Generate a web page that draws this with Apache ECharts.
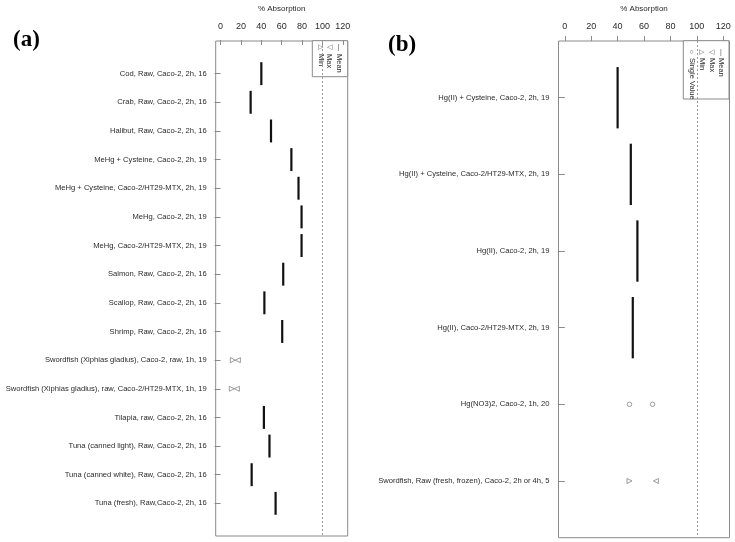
<!DOCTYPE html>
<html><head><meta charset="utf-8">
<script src="https://cdn.jsdelivr.net/npm/echarts@6/dist/echarts.min.js"></script>
<style>html,body{margin:0;padding:0;background:#fff}#c{width:735px;height:542px}</style>
</head><body><div id="c"></div>
<script>
// ---------- DATA ----------
const catsA = [
 'Cod, Raw, Caco-2, 2h, 16',
 'Crab, Raw, Caco-2, 2h, 16',
 'Halibut, Raw, Caco-2, 2h, 16',
 'MeHg + Cysteine, Caco-2, 2h, 19',
 'MeHg + Cysteine, Caco-2/HT29-MTX, 2h, 19',
 'MeHg, Caco-2, 2h, 19',
 'MeHg, Caco-2/HT29-MTX, 2h, 19',
 'Salmon, Raw, Caco-2, 2h, 16',
 'Scallop, Raw, Caco-2, 2h, 16',
 'Shrimp, Raw, Caco-2, 2h, 16',
 'Swordfish (Xiphias gladius), Caco-2, raw, 1h, 19',
 'Swordfish (Xiphias gladius), raw, Caco-2/HT29-MTX, 1h, 19',
 'Tilapia, raw, Caco-2, 2h, 16',
 'Tuna (canned light), Raw, Caco-2, 2h, 16',
 'Tuna (canned white), Raw, Caco-2, 2h, 16',
 'Tuna (fresh), Raw,Caco-2, 2h, 16'
];
const meanA = [40, 29.5, 49.5, 69.5, 76.5, 79.5, 79.5, 61.5, 43, 60.5, null, null, 42.5, 48, 30.5, 54];
const minA  = [null, null, null, null, null, null, null, null, null, null, 12, 11, null, null, null, null];
const maxA  = [null, null, null, null, null, null, null, null, null, null, 17, 16, null, null, null, null];

const catsB = [
 'Hg(II) + Cysteine, Caco-2, 2h, 19',
 'Hg(II) + Cysteine, Caco-2/HT29-MTX, 2h, 19',
 'Hg(II), Caco-2, 2h, 19',
 'Hg(II), Caco-2/HT29-MTX, 2h, 19',
 'Hg(NO3)2, Caco-2, 1h, 20',
 'Swordfish, Raw (fresh, frozen), Caco-2, 2h or 4h, 5'
];
const meanB = [40, 50, 55, 51.5, null, null];
const minB  = [null, null, null, null, null, 49];
const maxB  = [null, null, null, null, null, 69];
const singleRowB = [5, 5];
const singleValB = [49, 66.5];

const xTicks = [0, 20, 40, 60, 80, 100, 120];
const refLine = 100;

// ---------- HELPERS ----------
const rowsA = catsA.map((_, i) => i + 1);
const rowsB = catsB.map((_, i) => i + 1);
const pairs = (vals) => vals.map((v, i) => v == null ? null : [v, i + 1]).filter(Boolean);

const FONT = 'Liberation Sans, Arial, sans-serif';
const TXT = '#2a2a2a';
const BOX = '#8a8a8a';

function xAxisCfg(gi) {
  return {
    gridIndex: gi, type: 'value', position: 'top', min: -4.8, max: 124.8,
    name: '% Absorption', nameLocation: 'middle', nameGap: 28,
    nameTextStyle: {fontFamily: FONT, fontSize: 8, color: TXT},
    axisLine: {show: false},
    axisTick: {show: true, length: 5, customValues: xTicks, lineStyle: {color: BOX}},
    axisLabel: {customValues: xTicks, fontFamily: FONT, fontSize: 9, color: TXT, margin: 10},
    splitLine: {show: false}
  };
}
function yAxisCfg(gi, cats, rows, ext) {
  return {
    gridIndex: gi, type: 'value', inverse: true, min: 1 - ext, max: cats.length + ext,
    axisLine: {show: false},
    axisTick: {show: true, length: 6, customValues: rows, lineStyle: {color: BOX}},
    axisLabel: {customValues: rows, fontFamily: FONT, fontSize: 7.6, color: TXT, margin: 9,
      formatter: v => cats[Math.round(v) - 1] || ''},
    splitLine: {show: false}
  };
}
function meanSeries(xi, data) {
  return {
    type: 'custom', xAxisIndex: xi, yAxisIndex: xi, data: data,
    renderItem: (params, api) => {
      const p1 = api.coord([api.value(0), api.value(1) - 0.4]);
      const p2 = api.coord([api.value(0), api.value(1) + 0.4]);
      return {type: 'line', shape: {x1: p1[0], y1: p1[1], x2: p2[0], y2: p2[1]},
        style: {stroke: '#111', lineWidth: 2.2}};
    },
    markLine: {silent: true, symbol: 'none', label: {show: false},
      lineStyle: {color: '#999', type: [2, 2], width: 1},
      data: [{xAxis: refLine}]}
  };
}
function triSeries(xi, data, rot) {
  return {type: 'scatter', xAxisIndex: xi, yAxisIndex: xi, data: data,
    symbol: 'triangle', symbolSize: 5, symbolRotate: rot,
    itemStyle: {color: 'rgba(0,0,0,0)', borderColor: '#666', borderWidth: 0.8}};
}

// legend graphics (rotated text, upright symbols)
function legendGroup(x0, y0, w, h, items, symY, textY) {
  const ch = [{type: 'rect', shape: {x: x0, y: y0, width: w, height: h},
    style: {fill: '#fff', stroke: BOX, lineWidth: 1}}];
  items.forEach(it => {
    ch.push({type: 'text', x: it.x, y: symY, style: {text: it.sym, font: '7px ' + FONT,
      fill: '#555', align: 'center', verticalAlign: 'middle'}});
    ch.push({type: 'text', x: it.x, y: textY, rotation: -Math.PI / 2,
      style: {text: it.label, font: '7.5px ' + FONT, fill: TXT, align: 'left', verticalAlign: 'middle'}});
  });
  return {type: 'group', children: ch, z: 10};
}

const option = {
  animation: false,
  grid: [
    {left: 215.7, top: 40.7, width: 132, height: 495.3, show: true, borderColor: BOX, borderWidth: 1, backgroundColor: '#fff'},
    {left: 558.5, top: 40.7, width: 171, height: 497, show: true, borderColor: BOX, borderWidth: 1, backgroundColor: '#fff'}
  ],
  xAxis: [xAxisCfg(0), xAxisCfg(1)],
  yAxis: [yAxisCfg(0, catsA, rowsA, 1.14), yAxisCfg(1, catsB, rowsB, 0.74)],
  series: [
    meanSeries(0, pairs(meanA)),
    triSeries(0, pairs(minA), -90),
    triSeries(0, pairs(maxA), 90),
    meanSeries(1, pairs(meanB)),
    triSeries(1, pairs(minB), -90),
    triSeries(1, pairs(maxB), 90),
    {type: 'scatter', xAxisIndex: 1, yAxisIndex: 1,
     data: singleValB.map((v, i) => [v, singleRowB[i]]),
     symbol: 'circle', symbolSize: 4.5,
     itemStyle: {color: 'rgba(0,0,0,0)', borderColor: '#666', borderWidth: 0.8}}
  ],
  graphic: [
    {type: 'text', left: 13, top: 29, style: {text: '(a)', font: 'bold 23px "Liberation Serif", "Times New Roman", serif', fill: '#000'}},
    {type: 'text', left: 388, top: 34, style: {text: '(b)', font: 'bold 23px "Liberation Serif", "Times New Roman", serif', fill: '#000'}},
    legendGroup(312.3, 40.7, 35.4, 36, [
      {x: 320.7, sym: '\u25B7', label: 'Min'},
      {x: 329.3, sym: '\u25C1', label: 'Max'},
      {x: 338.7, sym: '|', label: 'Mean'}
    ], 47.5, 54),
    legendGroup(683.3, 40.7, 45.7, 58.3, [
      {x: 691.7, sym: '\u25CB', label: 'Single Value'},
      {x: 701.7, sym: '\u25B7', label: 'Min'},
      {x: 711.7, sym: '\u25C1', label: 'Max'},
      {x: 721, sym: '|', label: 'Mean'}
    ], 52, 58)
  ]
};
const chart = echarts.init(document.getElementById('c'), null, {renderer: 'canvas'});
chart.setOption(option);
</script></body></html>
